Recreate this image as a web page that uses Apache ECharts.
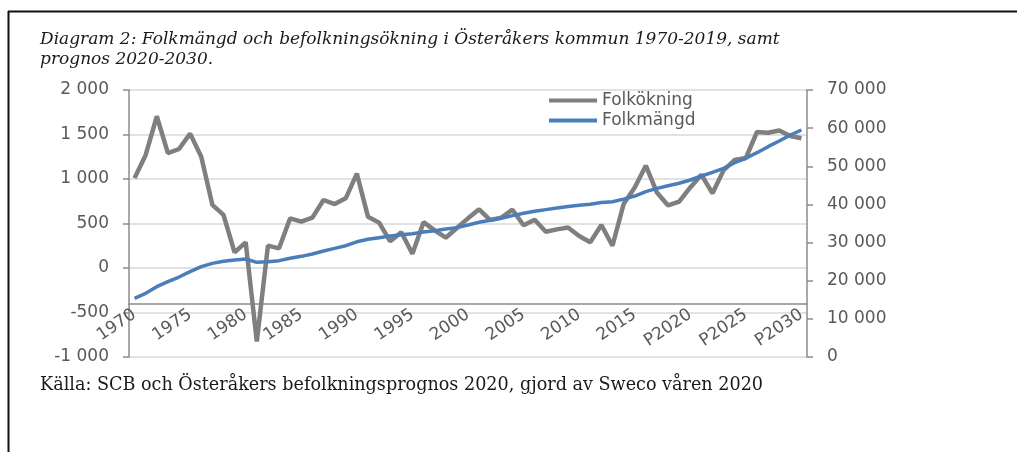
<!DOCTYPE html>
<html lang="sv">
<head>
    <meta charset="UTF-8">
    <title>Folkmängd och befolkningsökning</title>
    <script src="https://cdn.jsdelivr.net/npm/echarts@6.0.0/dist/echarts.min.js"></script>
</head>
<style>
    body{
        margin: 0;
        background: #fff;
    }
    #main{
        width: 1017px;
        height: 452px;
    }
</style>
<body>
<div id="main"></div>
<script>
    // år, prognosår har prefix P
    var categories = [
        "1970","1971","1972","1973","1974","1975","1976","1977","1978","1979",
        "1980","1981","1982","1983","1984","1985","1986","1987","1988","1989",
        "1990","1991","1992","1993","1994","1995","1996","1997","1998","1999",
        "2000","2001","2002","2003","2004","2005","2006","2007","2008","2009",
        "2010","2011","2012","2013","2014","2015","2016","2017","2018","2019",
        "P2020","P2021","P2022","P2023","P2024","P2025","P2026","P2027","P2028","P2029","P2030"
    ];
    // befolkningsökning per år (vänster axel)
    var folkokning = [
        1010,1270,1705,1290,1337,1510,1250,710,596,176,
        288,-825,251,221,558,521,566,764,719,783,
        1060,577,510,300,402,160,515,423,340,450,
        558,660,539,566,655,480,543,408,434,455,
        360,290,483,250,718,905,1150,848,703,745,
        905,1048,839,1100,1213,1236,1528,1520,1545,1483,1457
    ];
    // folkmängd (höger axel)
    var folkmangd = [
        15390,16690,18440,19750,20970,22370,23680,24550,25080,25430,
        25690,24820,25000,25260,25870,26390,27000,27790,28490,29180,
        30200,30850,31290,31720,32070,32330,32770,33120,33560,33910,
        34610,35310,35840,36360,37060,37670,38200,38640,39060,39450,
        39800,40050,40500,40700,41400,42200,43350,44200,44900,45550,
        46400,47450,48420,49470,50940,52090,53570,55140,56630,58200,59510
    ];
    var leftTicks = { min: -1000, max: 2000, interval: 500 };
    var rightTicks = { min: 0, max: 70000, interval: 10000 };

    var gray = '#7f7f7f';
    var blue = '#4a7ebb';
    var axisColor = '#8c8c8c';
    var labelColor = '#595959';

    // 2 000, -1 000 ...
    function fmt(v){
        return String(v).replace(/\B(?=(\d{3})+(?!\d))/g, ' ');
    }

    var myChart = echarts.init(document.getElementById('main'));

    var option = {
        animation: false,
        backgroundColor: '#fff',
        title: [
            {
                text: 'Diagram 2: Folkmängd och befolkningsökning i Österåkers kommun 1970-2019, samt\nprognos 2020-2030.',
                left: 40,
                top: 30,
                padding: 0,
                textStyle: {
                    fontFamily: 'DejaVu Serif',
                    fontStyle: 'italic',
                    fontWeight: 'normal',
                    fontSize: 17,
                    lineHeight: 20,
                    color: '#1a1a1a'
                }
            },
            {
                text: 'Källa: SCB och Österåkers befolkningsprognos 2020, gjord av Sweco våren 2020',
                left: 40,
                top: 375,
                padding: 0,
                textStyle: {
                    fontFamily: 'DejaVu Serif',
                    fontWeight: 'normal',
                    fontSize: 17.6,
                    lineHeight: 20,
                    color: '#1a1a1a'
                }
            }
        ],
        legend: {
            data: ['Folkökning', 'Folkmängd'],
            orient: 'vertical',
            left: 549,
            top: 92,
            padding: 0,
            icon: 'rect',
            itemWidth: 48,
            itemHeight: 4,
            itemGap: 3,
            textStyle: {
                fontFamily: 'DejaVu Sans',
                fontSize: 17,
                color: labelColor
            }
        },
        grid: {
            left: 129,
            right: 210,
            top: 90,
            bottom: 95,
            containLabel: false
        },
        xAxis: {
            type: 'category',
            data: categories,
            boundaryGap: true,
            position: 'bottom',
            offset: -53, // x-axeln ligger vid -400 på vänster axel
            axisLine: {
                onZero: false,
                lineStyle: { color: axisColor, width: 1.5 }
            },
            axisTick: {
                interval: 4,
                length: 5,
                lineStyle: { color: axisColor, width: 1.5 }
            },
            axisLabel: {
                interval: 4,
                rotate: 34,
                margin: 9,
                fontFamily: 'DejaVu Sans',
                fontSize: 17,
                color: labelColor
            },
            splitLine: { show: false }
        },
        yAxis: [
            {
                type: 'value',
                position: 'left',
                min: leftTicks.min,
                max: leftTicks.max,
                interval: leftTicks.interval,
                axisLine: { show: true, lineStyle: { color: axisColor, width: 1.5 } },
                axisTick: { show: true, length: 6, lineStyle: { color: axisColor, width: 1.5 } },
                axisLabel: {
                    margin: 20,
                    formatter: fmt,
                    fontFamily: 'DejaVu Sans',
                    fontSize: 17,
                    color: labelColor
                },
                splitLine: { show: true, lineStyle: { color: '#d9d9d9', width: 1.5 } }
            },
            {
                type: 'value',
                position: 'right',
                min: rightTicks.min,
                max: rightTicks.max,
                interval: rightTicks.interval,
                axisLine: { show: true, lineStyle: { color: axisColor, width: 1.5 } },
                axisTick: { show: true, length: 6, lineStyle: { color: axisColor, width: 1.5 } },
                axisLabel: {
                    margin: 20,
                    formatter: fmt,
                    fontFamily: 'DejaVu Sans',
                    fontSize: 17,
                    color: labelColor
                },
                splitLine: { show: false }
            }
        ],
        graphic: [
            {
                type: 'line',
                shape: { x1: 8, y1: 11.5, x2: 1017, y2: 11.5 },
                style: { stroke: '#111', lineWidth: 2 }
            },
            {
                type: 'line',
                shape: { x1: 8.5, y1: 11, x2: 8.5, y2: 452 },
                style: { stroke: '#111', lineWidth: 2 }
            }
        ],
        series: [
            {
                name: 'Folkökning',
                type: 'line',
                yAxisIndex: 0,
                data: folkokning,
                showSymbol: false,
                symbol: 'none',
                lineStyle: { color: gray, width: 4.5 },
                itemStyle: { color: gray }
            },
            {
                name: 'Folkmängd',
                type: 'line',
                yAxisIndex: 1,
                data: folkmangd,
                showSymbol: false,
                symbol: 'none',
                lineStyle: { color: blue, width: 3.5 },
                itemStyle: { color: blue }
            }
        ]
    };
    myChart.setOption(option);
</script>
</body>
</html>
